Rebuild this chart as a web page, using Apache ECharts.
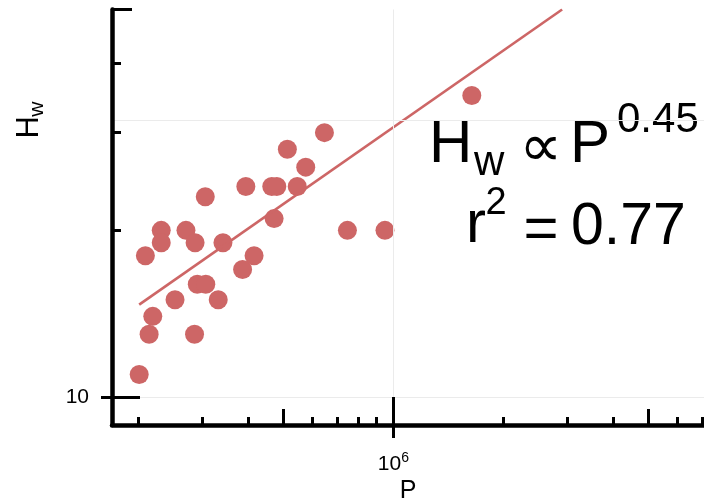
<!DOCTYPE html>
<html><head><meta charset="utf-8">
<script src="https://cdn.jsdelivr.net/npm/echarts@6/dist/echarts.min.js"></script>
<style>html,body{margin:0;padding:0;background:#fff}#c{width:704px;height:503px}</style>
</head><body><div id="c"></div>
<script>
// ---- data ----
const P  = [2.01e5, 2.14e5, 2.19e5, 2.09e5, 2.31e5, 2.31e5, 2.52e5, 2.70e5, 2.86e5, 2.85e5,
            2.90e5, 3.06e5, 3.05e5, 3.31e5, 3.41e5, 3.86e5, 3.94e5, 4.15e5, 4.64e5, 4.79e5,
            4.71e5, 5.12e5, 5.45e5, 5.75e5, 6.47e5, 7.48e5, 9.48e5, 1.64e6];
const Hw = [11, 13, 14, 18, 20, 19, 15, 20, 19, 13,
            16, 16, 23, 15, 19, 17, 24, 18, 24, 24,
            21, 28, 24, 26, 30, 20, 20, 35];
const fitP = [2.01e5, 2.9e6];
const fitH = [14.7, 50];
const xMinorTicks = [2e5, 3e5, 4e5, 6e5, 7e5, 8e5, 9e5, 2e6, 3e6, 4e6, 6e6, 7e6];
const xMidTicks = [5e5, 5e6];
const xMajorTicks = [1e6];
const yMinorTicks = [20, 30, 40];
const yTopTicks = [50];
const yMajorTicks = [10];
const xGridLines = [1e6];
const yGridLines = [10, 31.62];
const xRange = [1.693e5, 7.1e6];
const yRange = [8.92, 50];

const FONT = '"Liberation Sans", Arial, sans-serif';
const RED = '#cd6666';

function xAx(ticks, len, inside, extra) {
  return Object.assign({
    type: 'log', logBase: 10, min: xRange[0], max: xRange[1], position: 'bottom', z: 10,
    axisLine: { show: false, onZero: false }, splitLine: { show: false }, minorTick: {show:false},
    axisTick: { show: true, inside: inside, length: len, customValues: ticks,
                lineStyle: { color: '#000', width: 3 } },
    axisLabel: { show: false }
  }, extra || {});
}
function yAx(ticks, len, inside, extra) {
  return Object.assign({
    type: 'log', logBase: 10, min: yRange[0], max: yRange[1], position: 'left', z: 10,
    axisLine: { show: false, onZero: false }, splitLine: { show: false }, minorTick: {show:false},
    axisTick: { show: true, inside: inside, length: len, customValues: ticks,
                lineStyle: { color: '#000', width: 3 } },
    axisLabel: { show: false }
  }, extra || {});
}

const chart = echarts.init(document.getElementById('c'), null, { renderer: 'canvas' });
chart.setOption({
  animation: false,
  backgroundColor: '#fff',
  textStyle: { fontFamily: FONT },
  grid: { left: 112, right: 0, top: 9.5, bottom: 78, containLabel: false, outerBoundsMode: 'none' },
  xAxis: [
    xAx(xMinorTicks, 8, true, {
      axisLine: { show: true, onZero: false, lineStyle: { color: '#000', width: 4.5 } },
      name: 'P', nameLocation: 'middle', nameGap: 54,
      nameTextStyle: { fontSize: 25, color: '#000', fontFamily: FONT }
    }),
    xAx(xMidTicks, 16, true),
    xAx(xMajorTicks, 28, true),
    xAx(xMajorTicks, 13, false, {
      axisLabel: {
        show: true, customValues: xMajorTicks, margin: 26,
        formatter: function () { return '{a|10}{b|6}'; },
        rich: {
          a: { fontSize: 21, color: '#000', fontFamily: FONT, lineHeight: 24, verticalAlign: 'bottom' },
          b: { fontSize: 14, color: '#000', fontFamily: FONT, lineHeight: 24, verticalAlign: 'top' }
        }
      }
    })
  ],
  yAxis: [
    yAx(yMinorTicks, 9, true, {
      axisLine: { show: true, onZero: false, lineStyle: { color: '#000', width: 4.5 } }
    }),
    yAx(yTopTicks, 20, true),
    yAx(yMajorTicks, 28, true),
    yAx(yMajorTicks, 11, false, {
      axisLabel: { show: true, customValues: yMajorTicks, margin: 23,
                   formatter: function () { return '10'; },
                   fontSize: 21, color: '#000', fontFamily: FONT }
    })
  ],
  series: [
    {
      type: 'line', data: [], xAxisIndex: 0, yAxisIndex: 0, z: 1, silent: true,
      markLine: {
        silent: true, symbol: ['none', 'none'], label: { show: false },
        lineStyle: { color: '#ebebeb', width: 1, type: 'solid' },
        data: xGridLines.map(v => ({ xAxis: v })).concat(yGridLines.map(v => ({ yAxis: v })))
      }
    },
    {
      type: 'scatter', xAxisIndex: 0, yAxisIndex: 0, z: 3,
      symbol: 'circle', symbolSize: 19,
      itemStyle: { color: RED, opacity: 1 },
      data: P.map((p, i) => [p, Hw[i]])
    },
    {
      type: 'line', xAxisIndex: 0, yAxisIndex: 0, z: 4, clip: true,
      showSymbol: false, symbol: 'none',
      lineStyle: { color: RED, width: 2.6 },
      data: fitP.map((p, i) => [p, fitH[i]])
    }
  ],
  graphic: [
    // y-axis title H_w (rotated)
    { type: 'group', x: 40.5, y: 136, rotation: Math.PI / 2, children: [
      { type: 'text', style: { text: 'H', x: -2.5, y: -10.7, fill: '#000', font: '31px ' + FONT, textAlign: 'left', verticalAlign: 'middle' } },
      { type: 'text', style: { text: 'w', x: 19.3, y: -3.0, fill: '#000', font: '21px ' + FONT, textAlign: 'left', verticalAlign: 'middle' } }
    ]},
    // annotation line 1
    { type: 'text', style: { text: 'H', x: 429, y: 145.2, fill: '#000', font: '60px ' + FONT, textAlign: 'left', verticalAlign: 'middle' } },
    { type: 'text', style: { text: 'w', x: 474, y: 163.4, fill: '#000', font: '42px ' + FONT, textAlign: 'left', verticalAlign: 'middle' } },
    { type: 'text', style: { text: '\u221D', x: 541, y: 150, fill: '#000', font: '60px "DejaVu Sans", ' + FONT, textAlign: 'center', verticalAlign: 'middle' } },
    { type: 'text', style: { text: 'P', x: 570, y: 145.2, fill: '#000', font: '60px ' + FONT, textAlign: 'left', verticalAlign: 'middle' } },
    { type: 'text', style: { text: '0.45', x: 617, y: 120, fill: '#000', font: '42px ' + FONT, textAlign: 'left', verticalAlign: 'middle' } },
    // annotation line 2
    { type: 'text', style: { text: 'r', x: 466, y: 225.9, fill: '#000', font: '60px ' + FONT, textAlign: 'left', verticalAlign: 'middle' } },
    { type: 'text', style: { text: '2', x: 485.5, y: 203.5, fill: '#000', font: '38px ' + FONT, textAlign: 'left', verticalAlign: 'middle' } },
    { type: 'text', style: { text: '=', x: 541, y: 231, fill: '#000', font: '60px ' + FONT, textAlign: 'center', verticalAlign: 'middle' } },
    { type: 'text', style: { text: '0.77', x: 571, y: 227.5, fill: '#000', font: '59px ' + FONT, textAlign: 'left', verticalAlign: 'middle' } }
  ]
});
</script>
</body></html>
